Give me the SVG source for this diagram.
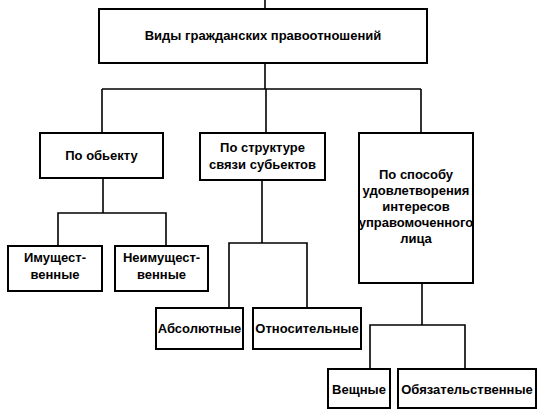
<svg xmlns="http://www.w3.org/2000/svg" width="547" height="419" viewBox="0 0 547 419">
<style>
  .box { fill: #ffffff; stroke: #000000; stroke-width: 2; }
  .conn { fill: none; stroke: #000000; stroke-width: 1.6; }
  .t { font-family: "Liberation Sans", Arial, sans-serif; font-size: 13px; font-weight: bold; fill: #000000; text-anchor: middle; }
</style>
<rect width="547" height="419" fill="#ffffff"/>
<g id="connectors">
  <path class="conn" d="M265 0 V9"/>
  <path class="conn" d="M265 63 V89"/>
  <path class="conn" d="M102 89 H421"/>
  <path class="conn" d="M102 89 V133"/>
  <path class="conn" d="M266 89 V133"/>
  <path class="conn" d="M421 89 V133"/>
  <path class="conn" d="M103 178 V213"/>
  <path class="conn" d="M58 246 V213 H166 V246"/>
  <path class="conn" d="M262 180 V243"/>
  <path class="conn" d="M229 308 V243 H307 V308"/>
  <path class="conn" d="M422 283 V325"/>
  <path class="conn" d="M370 369 V325 H465 V369"/>
</g>
<g id="node-root">
  <rect class="box" x="99" y="9" width="328" height="54"/>
  <text class="t" x="263" y="40">Виды гражданских правоотношений</text>
</g>
<g id="node-object">
  <rect class="box" x="40" y="133" width="123" height="45"/>
  <text class="t" x="101.5" y="160">По обьекту</text>
</g>
<g id="node-structure">
  <rect class="box" x="200" y="133" width="125" height="47"/>
  <text class="t" x="262.5" y="152">По структуре</text>
  <text class="t" x="262.5" y="169">связи субьектов</text>
</g>
<g id="node-interest">
  <rect class="box" x="359" y="133" width="114" height="150"/>
  <text class="t" x="416" y="179">По способу</text>
  <text class="t" x="416" y="195">удовлетворения</text>
  <text class="t" x="416" y="211">интересов</text>
  <text class="t" x="416" y="227">управомоченного</text>
  <text class="t" x="416" y="243">лица</text>
</g>
<g id="node-property">
  <rect class="box" x="8" y="246" width="94" height="45"/>
  <text class="t" x="55" y="262">Имущест-</text>
  <text class="t" x="55" y="279">венные</text>
</g>
<g id="node-nonproperty">
  <rect class="box" x="115" y="246" width="93" height="45"/>
  <text class="t" x="161.5" y="262">Неимущест-</text>
  <text class="t" x="161.5" y="279">венные</text>
</g>
<g id="node-absolute">
  <rect class="box" x="156" y="308" width="87" height="41"/>
  <text class="t" x="199.5" y="333">Абсолютные</text>
</g>
<g id="node-relative">
  <rect class="box" x="253" y="308" width="108" height="41"/>
  <text class="t" x="307" y="333">Относительные</text>
</g>
<g id="node-real">
  <rect class="box" x="328" y="369" width="62" height="39"/>
  <text class="t" x="359" y="394">Вещные</text>
</g>
<g id="node-obligation">
  <rect class="box" x="398" y="369" width="138" height="39"/>
  <text class="t" x="467" y="394">Обязательственные</text>
</g>
</svg>
